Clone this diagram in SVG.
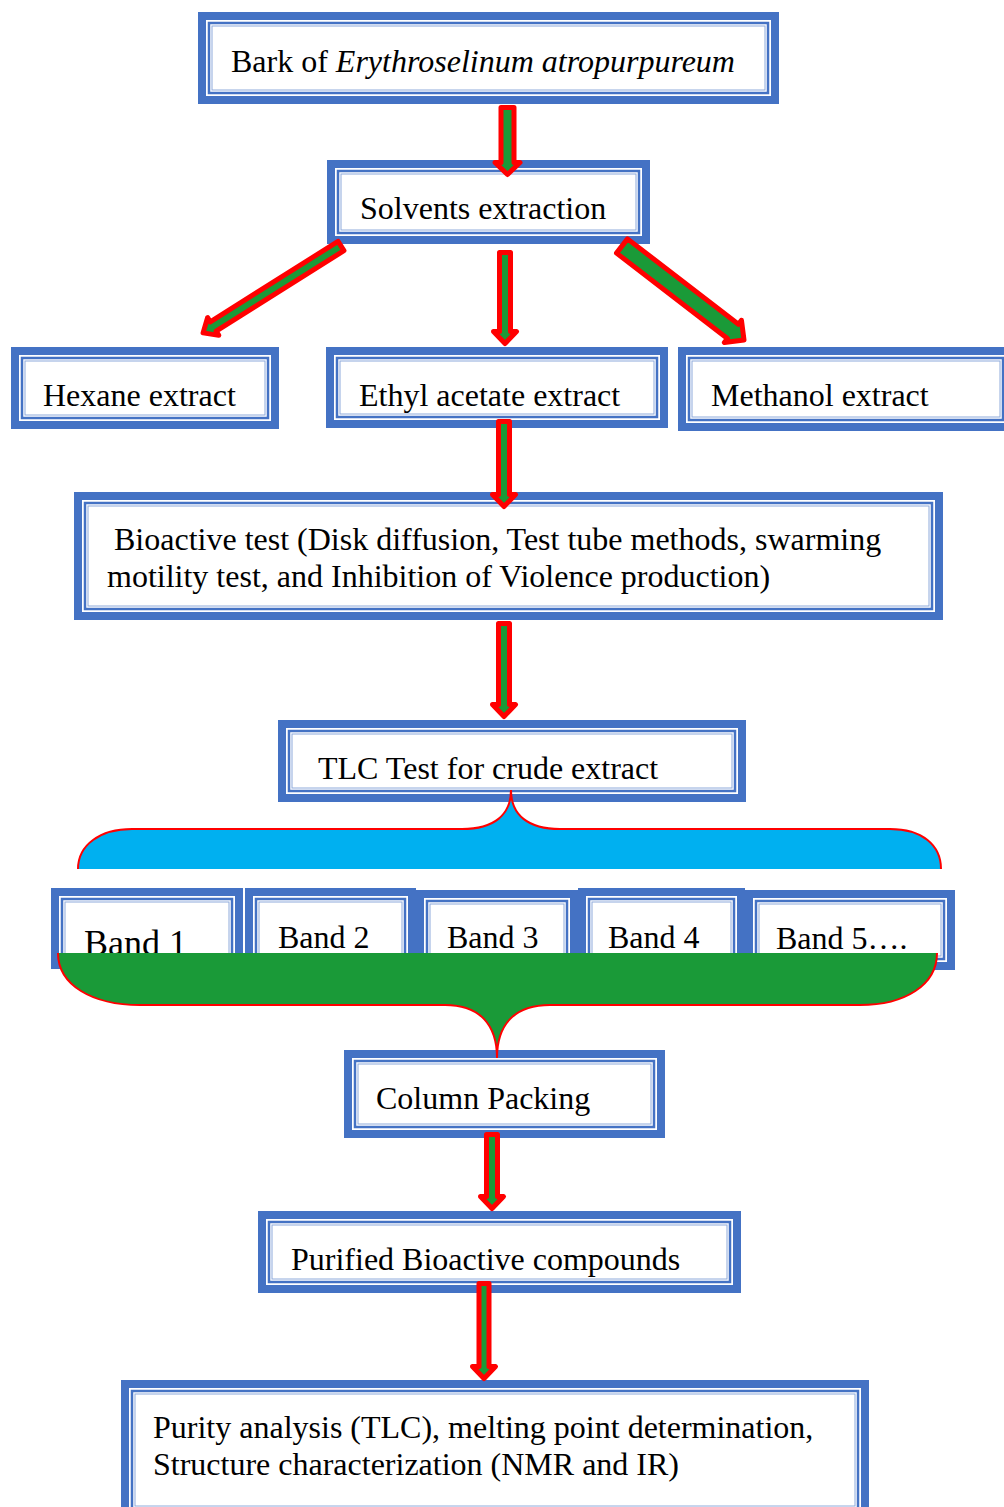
<svg xmlns="http://www.w3.org/2000/svg" width="1004" height="1507" viewBox="0 0 1004 1507">
<style>
.o{fill:#fff;stroke:#4472c4;stroke-width:8}
.i{fill:none;stroke:#4472c4;stroke-width:2.5}
.h{fill:none;stroke:#8eaadb;stroke-width:1}
.t{font-family:"Liberation Serif","Times New Roman",serif;font-size:32px;fill:#000}
.arr{fill:#1a9a38;stroke:#ff0000;stroke-width:5;stroke-linejoin:round}
.brace{stroke:#ff0000;stroke-width:2}
</style>
<rect width="1004" height="1507" fill="#fff"/>
<g id="n1">
<rect class="o" x="202" y="16" width="573" height="84"/>
<rect class="i" x="209" y="23" width="559" height="70"/>
<rect class="h" x="212" y="26" width="553" height="64"/>
<text class="t" x="231" y="72">Bark of <tspan font-style="italic">Erythroselinum atropurpureum</tspan></text>
</g>
<g id="n2">
<rect class="o" x="331" y="164" width="315" height="76"/>
<rect class="i" x="338" y="171" width="301" height="62"/>
<rect class="h" x="341" y="174" width="295" height="56"/>
<text class="t" x="360" y="219">Solvents extraction</text>
</g>
<g id="n3">
<rect class="o" x="15" y="351" width="260" height="74"/>
<rect class="i" x="22" y="358" width="246" height="60"/>
<rect class="h" x="25" y="361" width="240" height="54"/>
<text class="t" x="43" y="406">Hexane extract</text>
</g>
<g id="n4">
<rect class="o" x="330" y="351" width="334" height="73"/>
<rect class="i" x="337" y="358" width="320" height="59"/>
<rect class="h" x="340" y="361" width="314" height="53"/>
<text class="t" x="359" y="406">Ethyl acetate extract</text>
</g>
<g id="n5">
<rect class="o" x="682" y="351" width="328" height="76"/>
<rect class="i" x="689" y="358" width="314" height="62"/>
<rect class="h" x="692" y="361" width="308" height="56"/>
<text class="t" x="711" y="406">Methanol extract</text>
</g>
<g id="n6">
<rect class="o" x="78" y="496" width="861" height="120"/>
<rect class="i" x="85" y="503" width="847" height="106"/>
<rect class="h" x="88" y="506" width="841" height="100"/>
<text class="t" x="114" y="550">Bioactive test (Disk diffusion, Test tube methods, swarming</text>
<text class="t" x="107" y="587">motility test, and Inhibition of Violence production)</text>
</g>
<g id="n7">
<rect class="o" x="282" y="724" width="460" height="74"/>
<rect class="i" x="289" y="731" width="446" height="60"/>
<rect class="h" x="292" y="734" width="440" height="54"/>
<text class="t" x="318" y="779">TLC Test for crude extract</text>
</g>
<g id="n8">
<rect class="o" x="55" y="892" width="184" height="73"/>
<rect class="i" x="62" y="899" width="170" height="59"/>
<rect class="h" x="65" y="902" width="164" height="53"/>
<text class="t" x="84" y="955" style="font-size:36px">Band 1</text>
</g>
<g id="n9">
<rect class="o" x="249" y="892" width="163" height="73"/>
<rect class="i" x="256" y="899" width="149" height="59"/>
<rect class="h" x="259" y="902" width="143" height="53"/>
<text class="t" x="278" y="948">Band 2</text>
</g>
<g id="n10">
<rect class="o" x="420" y="894" width="154" height="71"/>
<rect class="i" x="427" y="901" width="140" height="57"/>
<rect class="h" x="430" y="904" width="134" height="51"/>
<text class="t" x="447" y="948">Band 3</text>
</g>
<g id="n11">
<rect class="o" x="582" y="892" width="159" height="73"/>
<rect class="i" x="589" y="899" width="145" height="59"/>
<rect class="h" x="592" y="902" width="139" height="53"/>
<text class="t" x="608" y="948">Band 4</text>
</g>
<g id="n12">
<rect class="o" x="749" y="894" width="202" height="72"/>
<rect class="i" x="756" y="901" width="188" height="58"/>
<rect class="h" x="759" y="904" width="182" height="52"/>
<text class="t" x="776" y="949">Band 5….</text>
</g>
<g id="n13">
<rect class="o" x="348" y="1054" width="313" height="80"/>
<rect class="i" x="355" y="1061" width="299" height="66"/>
<rect class="h" x="358" y="1064" width="293" height="60"/>
<text class="t" x="376" y="1109">Column Packing</text>
</g>
<g id="n14">
<rect class="o" x="262" y="1215" width="475" height="74"/>
<rect class="i" x="269" y="1222" width="461" height="60"/>
<rect class="h" x="272" y="1225" width="455" height="54"/>
<text class="t" x="291" y="1270">Purified Bioactive compounds</text>
</g>
<g id="n15">
<rect class="o" x="125" y="1384" width="740" height="132"/>
<rect class="i" x="132" y="1391" width="726" height="118"/>
<rect class="h" x="135" y="1394" width="720" height="112"/>
<text class="t" x="153" y="1438">Purity analysis (TLC), melting point determination,</text>
<text class="t" x="153" y="1475">Structure characterization (NMR and IR)</text>
</g>
<g id="connectors">
<path class="arr" transform="translate(507.5,107.5)" d="M-6.5 0 L-6.5 55 L-12.5 55 L0 67 L12.5 55 L6.5 55 L6.5 0 Z"/>
<path class="arr" transform="translate(341,246) rotate(57.8)" d="M-5.5 0 L-5.5 151 L-10.5 151 L0 163 L10.5 151 L5.5 151 L5.5 0 Z"/>
<path class="arr" transform="translate(505,252.5)" d="M-5.5 0 L-5.5 79 L-11.5 79 L0 91 L11.5 79 L5.5 79 L5.5 0 Z"/>
<path class="arr" transform="translate(622,246) rotate(-52.4)" d="M-9 0 L-9 140 L-14 140 L0 154 L14 140 L9 140 L9 0 Z"/>
<path class="arr" transform="translate(504,421.5)" d="M-5.5 0 L-5.5 73 L-11.5 73 L0 85 L11.5 73 L5.5 73 L5.5 0 Z"/>
<path class="arr" transform="translate(504,623.5)" d="M-5.5 0 L-5.5 81 L-11.5 81 L0 93 L11.5 81 L5.5 81 L5.5 0 Z"/>
<path class="brace" fill="#00b0f0" d="M78 869 C78 845 100 829 132 829 L462 829 C494 829 511 815 511 790 C511 815 528 829 560 829 L890 829 C922 829 941 845 941 869"/>
<path class="brace" fill="#1a9a38" d="M58 953 C58 985 92 1005 140 1005 L445 1005 C480 1005 497 1025 497 1058 C497 1025 514 1005 550 1005 L860 1005 C905 1005 937 985 937 953"/>
<path class="arr" transform="translate(492,1134.5)" d="M-5.5 0 L-5.5 62 L-11.5 62 L0 74 L11.5 62 L5.5 62 L5.5 0 Z"/>
<path class="arr" transform="translate(484,1283.5)" d="M-5 0 L-5 83 L-11.5 83 L0 95 L11.5 83 L5 83 L5 0 Z"/>
</g>
</svg>
